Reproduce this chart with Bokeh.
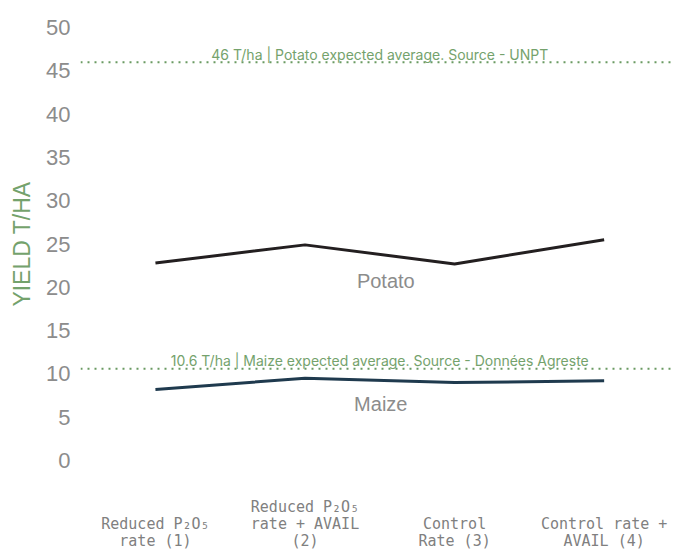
from bokeh.plotting import figure
from bokeh.models import Range1d, FixedTicker, Span, Label
from bokeh.embed import file_html
from bokeh.resources import INLINE

# ---- data ----
categories = [
    "Reduced P₂O₅\nrate (1)",
    "Reduced P₂O₅\nrate + AVAIL\n(2)",
    "Control\nRate (3)",
    "Control rate +\nAVAIL (4)",
]
potato = [22.8, 24.9, 22.7, 25.5]
maize = [8.2, 9.5, 9.0, 9.2]
y_ticks = [0, 5, 10, 15, 20, 25, 30, 35, 40, 45, 50]
ref_values = [46, 10.6]
ref_texts = [
    "46 T/ha | Potato expected average. Source - UNPT",
    "10.6 T/ha | Maize expected average. Source - Données Agreste",
]
series_names = ["Potato", "Maize"]
y_label = "YIELD T/HA"

# ---- styles ----
GREEN = "#74a26c"
GREEN_DOT = "#6a9a62"
GREY = "#8c8c8c"
XGREY = "#808080"
series_colors = ["#231f20", "#1f3a4e"]
label_offsets = [(6, -27), (1, -24)]

x = list(range(len(categories)))

p = figure(
    width=675, height=558,
    output_backend="svg", toolbar_location=None,
    x_range=Range1d(-0.501, 3.477), y_range=Range1d(0, 50),
    min_border_left=80, min_border_right=0, min_border_top=27, min_border_bottom=98,
)
p.outline_line_color = None
p.grid.visible = False
p.background_fill_color = "white"
p.border_fill_color = "white"

# x axis (category labels, padded so blocks are vertically balanced)
max_lines = max(c.count("\n") + 1 for c in categories)
overrides = {}
for i, c in enumerate(categories):
    n = c.count("\n") + 1
    pad = "\n" * ((max_lines - n + 1) // 2)
    overrides[i] = pad + c
p.xaxis.ticker = FixedTicker(ticks=x)
p.xaxis.major_label_overrides = overrides
p.xaxis.axis_line_color = None
p.xaxis.major_tick_line_color = None
p.xaxis.minor_tick_line_color = None
p.xaxis.major_tick_in = 0
p.xaxis.major_tick_out = 0
p.xaxis.major_label_standoff = 37
p.xaxis.major_label_text_font = "DejaVu Sans Mono"
p.xaxis.major_label_text_font_size = "15px"
p.xaxis.major_label_text_color = XGREY
p.xaxis.major_label_text_line_height = 0.97

# y axis
p.yaxis.ticker = FixedTicker(ticks=y_ticks)
p.yaxis.axis_line_color = None
p.yaxis.major_tick_line_color = None
p.yaxis.minor_tick_line_color = None
p.yaxis.major_tick_in = 0
p.yaxis.major_tick_out = 0
p.yaxis.major_label_standoff = 10
p.yaxis.major_label_text_font = "Liberation Sans"
p.yaxis.major_label_text_font_size = "22px"
p.yaxis.major_label_text_color = GREY
p.yaxis.axis_label = y_label
p.yaxis.axis_label_text_font = "Liberation Sans"
p.yaxis.axis_label_text_font_size = "23px"
p.yaxis.axis_label_text_font_style = "normal"
p.yaxis.axis_label_text_color = GREEN
p.yaxis.axis_label_standoff = 8

# reference lines
for v, t in zip(ref_values, ref_texts):
    p.add_layout(Span(location=v, dimension="width", line_color=GREEN_DOT,
                      line_width=2, line_dash="2 5"))
    p.add_layout(Label(x=(x[0] + x[-1]) / 2, y=v, text=t, text_align="center",
                       text_baseline="alphabetic", y_offset=8,
                       text_font="Inter", text_font_size="14px",
                       text_color=GREEN))

# series
for name, vals, col, (dx, dy) in zip(series_names, [potato, maize], series_colors, label_offsets):
    p.line(x, vals, line_color=col, line_width=3)
    p.add_layout(Label(x=(x[1] + x[2]) / 2, y=(vals[1] + vals[2]) / 2, text=name,
                       text_align="center", text_baseline="alphabetic",
                       x_offset=dx, y_offset=dy,
                       text_font="Liberation Sans", text_font_size="20px",
                       text_color=GREY))

open("out.html", "w").write(file_html(p, INLINE))
